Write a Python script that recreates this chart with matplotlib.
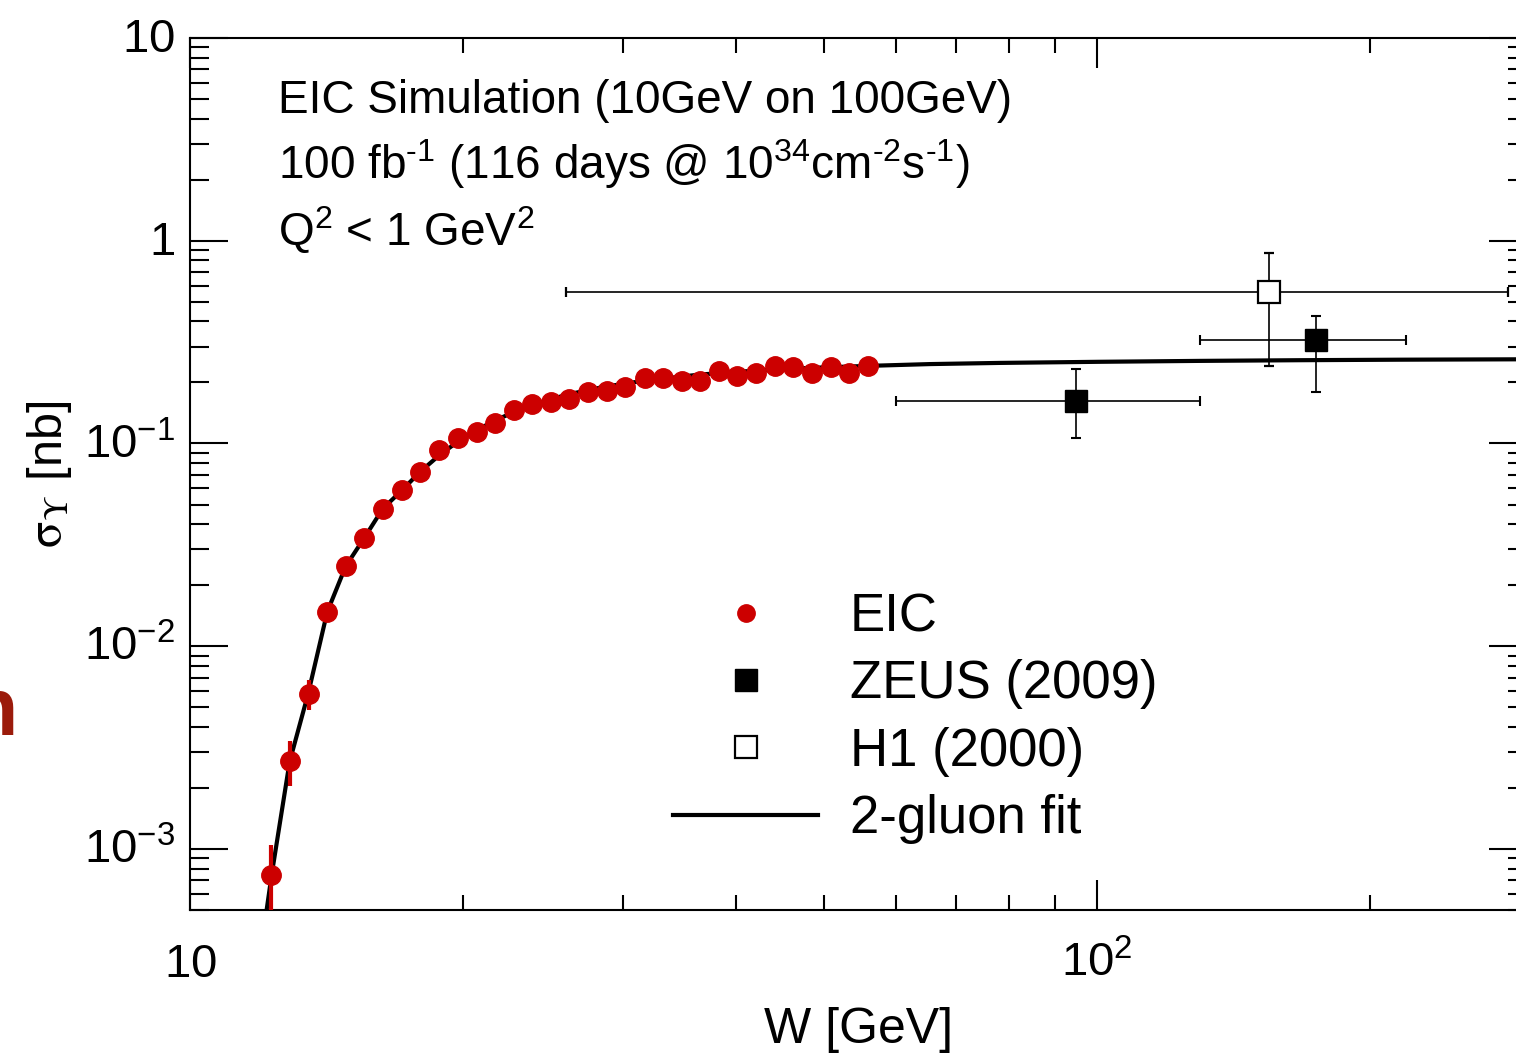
import matplotlib
matplotlib.use('Agg')
import matplotlib.pyplot as plt
from matplotlib.lines import Line2D
from matplotlib.ticker import LogLocator, NullFormatter

plt.rcParams['font.family'] = ['Liberation Sans', 'DejaVu Sans']
plt.rcParams['mathtext.fontset'] = 'custom'
plt.rcParams['mathtext.rm'] = 'Liberation Sans'
plt.rcParams['mathtext.it'] = 'Liberation Sans:italic'
plt.rcParams['mathtext.bf'] = 'Liberation Sans:bold'
plt.rcParams['mathtext.sf'] = 'Liberation Sans'

# ---------------- data ----------------
eic_w = [12.29, 12.89, 13.52, 14.17, 14.86, 15.57, 16.33, 17.12, 17.93, 18.84,
         19.74, 20.70, 21.70, 22.75, 23.83, 25.00, 26.17, 27.47, 28.83, 30.18,
         31.71, 33.19, 34.86, 36.50, 38.27, 40.10, 42.04, 44.12, 46.28, 48.51,
         50.86, 53.33, 55.88]
eic_sigma = [7.42e-4, 2.72e-3, 5.82e-3, 0.01476, 0.02478, 0.0343, 0.0473, 0.0587,
             0.0722, 0.0931, 0.1062, 0.1137, 0.1265, 0.1471, 0.1569, 0.1610,
             0.1661, 0.1804, 0.1810, 0.1894, 0.2107, 0.2107, 0.2043, 0.2027,
             0.2271, 0.2163, 0.2230, 0.2422, 0.2376, 0.2220, 0.2395, 0.2220,
             0.2414]
eic_err = [3.05e-4, 6.8e-4, 9.8e-4, 1.2e-3, 1.3e-3, 1.4e-3, 1.5e-3, 1.6e-3,
           1.7e-3, 1.8e-3, 1.9e-3, 2.0e-3, 2.0e-3, 2.1e-3, 2.1e-3, 2.2e-3,
           2.2e-3, 2.3e-3, 2.3e-3, 2.4e-3, 2.5e-3, 2.5e-3, 2.5e-3, 2.5e-3,
           2.7e-3, 2.7e-3, 2.8e-3, 2.9e-3, 2.9e-3, 2.9e-3, 3.0e-3, 3.0e-3,
           3.1e-3]

# 2-gluon fit curve
fit_w = [12.056, 12.148, 12.303, 12.878, 13.500, 14.168, 14.847, 15.571, 16.314,
         17.120, 17.932, 18.818, 19.747, 20.670, 21.69, 22.76, 23.83, 25.00,
         26.24, 27.54, 28.83, 31.75, 36.50, 42.07, 48.52, 55.91, 65.45, 78.17,
         100.8, 129.9, 167.4, 215.8, 297.9]
fit_sigma = [3.90e-4, 5.006e-4, 7.44e-4, 2.692e-3, 5.848e-3, 0.01476, 0.02477,
             0.03430, 0.04768, 0.05868, 0.07239, 0.08727, 0.1023, 0.1159, 0.1298,
             0.1429, 0.1547, 0.1656, 0.1753, 0.1839, 0.1913, 0.2043, 0.2188,
             0.2289, 0.2362, 0.2414, 0.2464, 0.2497, 0.2529, 0.2555, 0.2575,
             0.2590, 0.2602]

zeus_w = [94.8, 174.4]
zeus_w_lo = [60.0, 130.0]
zeus_w_hi = [130.0, 219.0]
zeus_sigma = [0.162, 0.325]
zeus_sigma_lo = [0.107, 0.179]
zeus_sigma_hi = [0.233, 0.424]

h1_w = [154.9]
h1_w_lo = [26.0]
h1_w_hi = [283.7]
h1_sigma = [0.559]
h1_sigma_lo = [0.240]
h1_sigma_hi = [0.873]

xtick_vals = [10, 100]
xtick_labels = ['$10$', '$10^{2}$']
ytick_vals = [10, 1, 0.1, 0.01, 0.001]
ytick_labels = ['$10$', '$1$', '$10^{-1}$', '$10^{-2}$', '$10^{-3}$']

RED = '#cc0000'

# ---------------- figure ----------------
W_PX, H_PX = 1516, 1056
fig = plt.figure(figsize=(W_PX / 100, H_PX / 100), dpi=100)
ax = fig.add_axes([190 / W_PX, 1 - 910 / H_PX, (1527 - 190) / W_PX, (910 - 38) / H_PX])
ax.set_xscale('log')
ax.set_yscale('log')
ax.set_xlim(10, 298)
ax.set_ylim(5e-4, 10)

# fit curve
ax.plot(fit_w, fit_sigma, color='black', lw=3, zorder=3, solid_joinstyle='round')

# EIC points
ax.errorbar(eic_w, eic_sigma, yerr=eic_err, fmt='o', color=RED, mec=RED, ms=14,
            elinewidth=3, capsize=0, zorder=5)

# ZEUS points
zx = [[w - lo for w, lo in zip(zeus_w, zeus_w_lo)], [hi - w for w, hi in zip(zeus_w, zeus_w_hi)]]
zy = [[s - lo for s, lo in zip(zeus_sigma, zeus_sigma_lo)], [hi - s for s, hi in zip(zeus_sigma, zeus_sigma_hi)]]
ax.errorbar(zeus_w, zeus_sigma, xerr=zx, yerr=zy, fmt='s', color='black', ms=16,
            elinewidth=1.2, capsize=3.3, capthick=1.5, zorder=6)

# H1 points
hx = [[w - lo for w, lo in zip(h1_w, h1_w_lo)], [hi - w for w, hi in zip(h1_w, h1_w_hi)]]
hy = [[s - lo for s, lo in zip(h1_sigma, h1_sigma_lo)], [hi - s for s, hi in zip(h1_sigma, h1_sigma_hi)]]
ax.errorbar(h1_w, h1_sigma, xerr=hx, yerr=hy, fmt='s', color='black', mfc='white',
            mec='black', mew=1.6, ms=16, elinewidth=1.2, capsize=3.3, capthick=1.5, zorder=6)

# axes styling
for sp in ax.spines.values():
    sp.set_linewidth(1.5)
ax.xaxis.set_major_locator(LogLocator(base=10))
ax.xaxis.set_minor_locator(LogLocator(base=10, subs=range(2, 10)))
ax.yaxis.set_major_locator(LogLocator(base=10))
ax.yaxis.set_minor_locator(LogLocator(base=10, subs=range(2, 10), numticks=20))
ax.xaxis.set_minor_formatter(NullFormatter())
ax.yaxis.set_minor_formatter(NullFormatter())
ax.tick_params(which='both', direction='in', top=True, right=True,
               labelbottom=False, labelleft=False, width=1.5)
ax.tick_params(axis='x', which='major', length=21.6)
ax.tick_params(axis='x', which='minor', length=10.8)
ax.tick_params(axis='y', which='major', length=27.4)
ax.tick_params(axis='y', which='minor', length=13.7)

# tick labels placed at tick values
for v, lab in zip(xtick_vals, xtick_labels):
    ax.annotate(lab, xy=(v, 0), xycoords=('data', 'axes fraction'), xytext=(0, -48),
                textcoords='offset points', ha='center', va='baseline', fontsize=34)
for v, lab in zip(ytick_vals, ytick_labels):
    ax.annotate(lab, xy=(0, v), xycoords=('axes fraction', 'data'), xytext=(-11, -1.5),
                textcoords='offset points', ha='right', va='center', fontsize=34)

# axis titles
ax.set_xlabel('W [GeV]', fontsize=36)
ax.xaxis.set_label_coords(0.5, -0.111)
ax.xaxis.label.set_va('top')
ax.set_ylabel(r'$\mathrm{\sigma_{\Upsilon}}$ [nb]', fontsize=35, math_fontfamily='stix')
ax.yaxis.set_label_coords(-0.087, 0.5)

# annotation text
ax.text(0.0658, 0.9135, 'EIC Simulation (10GeV on 100GeV)', transform=ax.transAxes,
        fontsize=33, va='baseline', ha='left')
ax.text(0.0658, 0.838, r'100 fb$^{\text{-1}}$ (116 days @ 10$^{34}$cm$^{\text{-2}}$s$^{\text{-1}}$)',
        transform=ax.transAxes, fontsize=33, va='baseline', ha='left')
ax.text(0.0658, 0.7625, r'Q$^{2}$ < 1 GeV$^{2}$', transform=ax.transAxes,
        fontsize=33, va='baseline', ha='left')

# legend
h_eic = Line2D([], [], ls='none', marker='o', ms=12.5, color=RED, mec=RED)
h_zeus = Line2D([], [], ls='none', marker='s', ms=15.5, color='black')
h_h1 = Line2D([], [], ls='none', marker='s', ms=15.5, mfc='white', mec='black', mew=1.6)
h_fit = Line2D([], [], color='black', lw=3)
ax.legend([h_eic, h_zeus, h_h1, h_fit], ['EIC', 'ZEUS (2009)', 'H1 (2000)', '2-gluon fit'],
          loc='upper left', bbox_to_anchor=(673 / W_PX, 1 - 592 / H_PX),
          bbox_transform=fig.transFigure, frameon=False, fontsize=38,
          handlelength=2.75, handletextpad=0.6, labelspacing=0.33,
          borderpad=0, borderaxespad=0)

# slide residue at left edge
fig.text(18 / W_PX, 1 - 735 / H_PX, 'n', color='#9b1b0b', fontsize=58,
         fontweight='bold', ha='right', va='baseline')

fig.savefig('out.png', dpi=100)
